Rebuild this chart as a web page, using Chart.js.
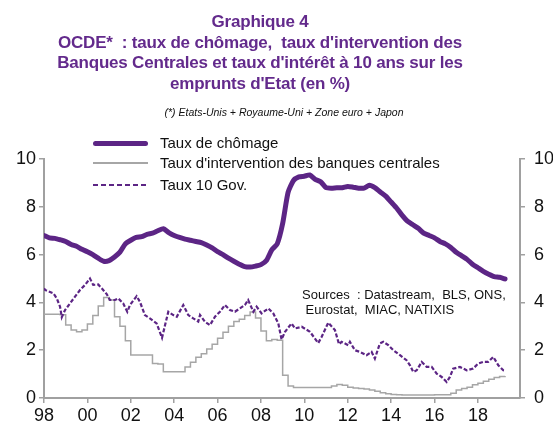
<!DOCTYPE html>
<html lang="fr">
<head>
<meta charset="utf-8">
<title>Graphique 4 — OCDE</title>
<script src="https://cdn.jsdelivr.net/npm/chart.js@4.4.1/dist/chart.umd.min.js"></script>
<style>
  html, body { margin: 0; padding: 0; background: #fff; }
  #wrap { position: relative; width: 553px; height: 428px; overflow: hidden; font-family: 'Liberation Sans', Arial, sans-serif; }
  #chart { position: absolute; left: 0; top: 0; }
  .title {
    position: absolute; left: 0; top: 12px; width: 520px;
    text-align: center; font-weight: bold; font-size: 17px; line-height: 20.5px;
    color: #632a8c; letter-spacing: -0.2px;
  }
  .note {
    position: absolute; left: 0; top: 106px; width: 568px;
    text-align: center; font-style: italic; font-size: 10.5px; color: #111;
  }
  .lg-row { position: absolute; left: 93px; height: 18px; }
  .lg-line { position: absolute; left: 0; width: 55px; }
  .lg-text { position: absolute; left: 67px; top: 0; font-size: 15px; line-height: 18px; color: #111; white-space: nowrap; }
  .sources {
    position: absolute; left: 302px; top: 287px;
    font-size: 13px; line-height: 15px; color: #111; white-space: nowrap;
  }
</style>
</head>
<body>
<div id="wrap">
  <canvas id="chart" width="553" height="428"></canvas>

  <div class="title">Graphique 4<br>OCDE*&nbsp; : taux de chômage,&nbsp; taux d'intervention des<br>Banques Centrales et taux d'intérêt à 10 ans sur les<br>emprunts d'Etat (en %)</div>
  <div class="note">(*) Etats-Unis + Royaume-Uni + Zone euro + Japon</div>

  <div class="lg-row" style="top:134px">
    <div class="lg-line" style="top:7px;height:5px;border-radius:3px;background:#5c2585"></div>
    <div class="lg-text">Taux de chômage</div>
  </div>
  <div class="lg-row" style="top:154px">
    <div class="lg-line" style="top:8px;height:1.5px;background:#a6a6a6"></div>
    <div class="lg-text">Taux d'intervention des banques centrales</div>
  </div>
  <div class="lg-row" style="top:176px">
    <div class="lg-line" style="top:8px;height:2px;background:repeating-linear-gradient(90deg,#5c2585 0 5px,transparent 5px 8px)"></div>
    <div class="lg-text">Taux 10 Gov.</div>
  </div>

  <div class="sources">Sources&nbsp; : Datastream,&nbsp; BLS, ONS,<br>&nbsp;Eurostat,&nbsp; MIAC, NATIXIS</div>
</div>

<script>
// ── Data (quarterly from 1998 Q1) ──
const START = 1998;

const CHOMAGE = [
  6.80, 6.70, 6.68, 6.62,   // 1998
  6.55, 6.42, 6.35, 6.22,   // 1999
  6.12, 6.00, 5.85, 5.72,   // 2000
  5.75, 5.90, 6.10, 6.45,   // 2001
  6.60, 6.72, 6.75, 6.85,   // 2002
  6.90, 7.00, 7.08, 6.92,   // 2003
  6.80, 6.72, 6.65, 6.60,   // 2004
  6.55, 6.50, 6.40, 6.28,   // 2005
  6.12, 6.00, 5.85, 5.72,   // 2006
  5.60, 5.50, 5.48, 5.52,   // 2007
  5.58, 5.75, 6.20, 6.45,   // 2008
  7.30, 8.60, 9.10, 9.25,   // 2009
  9.28, 9.33, 9.15, 9.05,   // 2010
  8.80, 8.78, 8.80, 8.80,   // 2011
  8.85, 8.82, 8.78, 8.78,   // 2012
  8.90, 8.80, 8.62, 8.45,   // 2013
  8.20, 7.95, 7.65, 7.40,   // 2014
  7.25, 7.10, 6.90, 6.80,   // 2015
  6.70, 6.55, 6.45, 6.30,   // 2016
  6.10, 5.95, 5.80, 5.60,   // 2017
  5.45, 5.30, 5.18, 5.08,   // 2018
  5.05, 4.98                // 2019
];

const TAUX_BC = [
  3.50, 3.50, 3.50, 3.48,   // 1998
  3.05, 2.85, 2.77, 2.85,   // 1999
  3.10, 3.45, 3.85, 4.20,   // 2000
  4.10, 3.40, 3.00, 2.40,   // 2001
  1.80, 1.80, 1.80, 1.80,   // 2002
  1.44, 1.42, 1.10, 1.10,   // 2003
  1.10, 1.10, 1.30, 1.50,   // 2004
  1.70, 1.85, 2.05, 2.25,   // 2005
  2.50, 2.75, 3.00, 3.20,   // 2006
  3.30, 3.45, 3.60, 3.35,   // 2007
  2.80, 2.40, 2.45, 2.42,   // 2008
  0.95, 0.50, 0.44, 0.44,   // 2009
  0.44, 0.44, 0.44, 0.44,   // 2010
  0.44, 0.50, 0.56, 0.53,   // 2011
  0.45, 0.42, 0.40, 0.38,   // 2012
  0.33, 0.28, 0.22, 0.18,   // 2013
  0.15, 0.14, 0.13, 0.13,   // 2014
  0.13, 0.13, 0.13, 0.13,   // 2015
  0.14, 0.14, 0.14, 0.20,   // 2016
  0.33, 0.40, 0.45, 0.55,   // 2017
  0.62, 0.70, 0.78, 0.86,   // 2018
  0.90, 0.92                // 2019
];

// 10-year gov. yields: [year, %]
const TAUX_10 = [
  [1998.00, 4.59], [1998.05, 4.52], [1998.43, 4.38], [1998.59, 4.17], [1998.74, 3.82],
  [1998.82, 3.38], [1998.97, 3.68], [1999.20, 3.96], [1999.43, 4.24], [1999.66, 4.52],
  [1999.89, 4.73], [2000.12, 5.00], [2000.27, 4.73], [2000.50, 4.75], [2000.66, 4.59],
  [2000.89, 4.35], [2001.04, 4.10], [2001.27, 4.10], [2001.42, 4.17], [2001.65, 3.96],
  [2001.84, 3.61], [2001.96, 3.89], [2002.27, 4.26], [2002.42, 4.03], [2002.65, 3.47],
  [2002.88, 3.33], [2003.19, 3.12], [2003.44, 2.52], [2003.58, 3.05], [2003.73, 3.61],
  [2003.96, 3.47], [2004.12, 3.40], [2004.42, 3.89], [2004.65, 3.47], [2004.88, 3.33],
  [2005.11, 3.20], [2005.19, 3.47], [2005.42, 3.19], [2005.65, 3.05], [2005.88, 3.40],
  [2006.11, 3.61], [2006.34, 3.89], [2006.57, 3.68], [2006.80, 3.61], [2007.03, 3.75],
  [2007.26, 3.89], [2007.41, 4.10], [2007.65, 3.61], [2007.80, 3.82], [2008.03, 3.54],
  [2008.34, 3.75], [2008.57, 3.54], [2008.80, 3.12], [2008.95, 2.45], [2009.11, 2.77],
  [2009.41, 3.12], [2009.57, 2.91], [2009.88, 2.98], [2010.26, 2.77], [2010.64, 2.30],
  [2010.80, 2.56], [2011.10, 3.15], [2011.41, 2.84], [2011.60, 2.25], [2011.72, 2.35],
  [2012.02, 2.21], [2012.10, 2.35], [2012.33, 2.00], [2012.56, 1.93], [2012.87, 1.79],
  [2013.10, 1.93], [2013.25, 1.65], [2013.48, 2.28], [2013.64, 2.35], [2013.87, 2.21],
  [2014.10, 2.00], [2014.41, 1.79], [2014.71, 1.58], [2014.87, 1.37], [2015.02, 1.09],
  [2015.18, 1.16], [2015.41, 1.51], [2015.64, 1.30], [2015.87, 1.30], [2016.10, 1.02],
  [2016.33, 0.88], [2016.56, 0.67], [2016.71, 0.88], [2016.86, 1.23], [2017.17, 1.30],
  [2017.48, 1.16], [2017.78, 1.23], [2018.01, 1.44], [2018.24, 1.51], [2018.47, 1.51],
  [2018.71, 1.72], [2018.94, 1.37], [2019.17, 1.16], [2019.25, 1.15]
];

const PURPLE = '#5c2585';
const GREY   = '#a6a6a6';
const AXIS   = '#a0a0a0';
const FONT   = { family: "'Liberation Sans', Arial, sans-serif", size: 18 };

const quarterly = arr => arr.map((v, i) => ({ x: START + i * 0.25, y: v }));

// ── Axes helpers ──
function yAxis(position, width, padding) {
  return {
    position, min: 0, max: 10,
    afterFit: s => { s.width = width; },
    grid:   { drawOnChartArea: false, tickLength: 5, color: AXIS, lineWidth: 1.5 },
    border: { color: AXIS, width: 2 },
    ticks:  { stepSize: 2, padding, color: '#111', font: FONT },
  };
}

// ── Chart ──
new Chart(document.getElementById('chart'), {
  type: 'line',
  data: {
    datasets: [
      {
        label: 'Taux de chômage',
        data: quarterly(CHOMAGE),
        borderColor: PURPLE, borderWidth: 5,
        borderCapStyle: 'round', borderJoinStyle: 'round',
        pointRadius: 0, tension: 0.2, order: 1,
      },
      {
        label: 'Taux d\'intervention des banques centrales',
        data: quarterly(TAUX_BC),
        borderColor: GREY, borderWidth: 1.5,
        stepped: true, pointRadius: 0, order: 3,
      },
      {
        label: 'Taux 10 Gov.',
        data: TAUX_10.map(([x, y]) => ({ x, y })),
        borderColor: PURPLE, borderWidth: 2.2, borderDash: [4, 2],
        pointRadius: 0, tension: 0, order: 2,
      },
    ],
  },
  options: {
    responsive: false, animation: false,
    layout: { padding: { top: 159, left: 0, right: 0, bottom: 0 } },
    plugins: { legend: { display: false }, tooltip: { enabled: false } },
    scales: {
      x: {
        type: 'linear', min: 1998, max: 2019.94,
        afterFit: s => { s.height = 30; },
        grid:   { drawOnChartArea: false, tickLength: 5, color: AXIS, lineWidth: 1.5 },
        border: { color: AXIS, width: 2 },
        ticks: {
          stepSize: 2, includeBounds: false, padding: 2, maxRotation: 0,
          color: '#111', font: FONT,
          callback: v => String(v % 100).padStart(2, '0'),
        },
      },
      y:  yAxis('left', 44, 3),
      y2: yAxis('right', 33, 9),
    },
  },
});
</script>
</body>
</html>
